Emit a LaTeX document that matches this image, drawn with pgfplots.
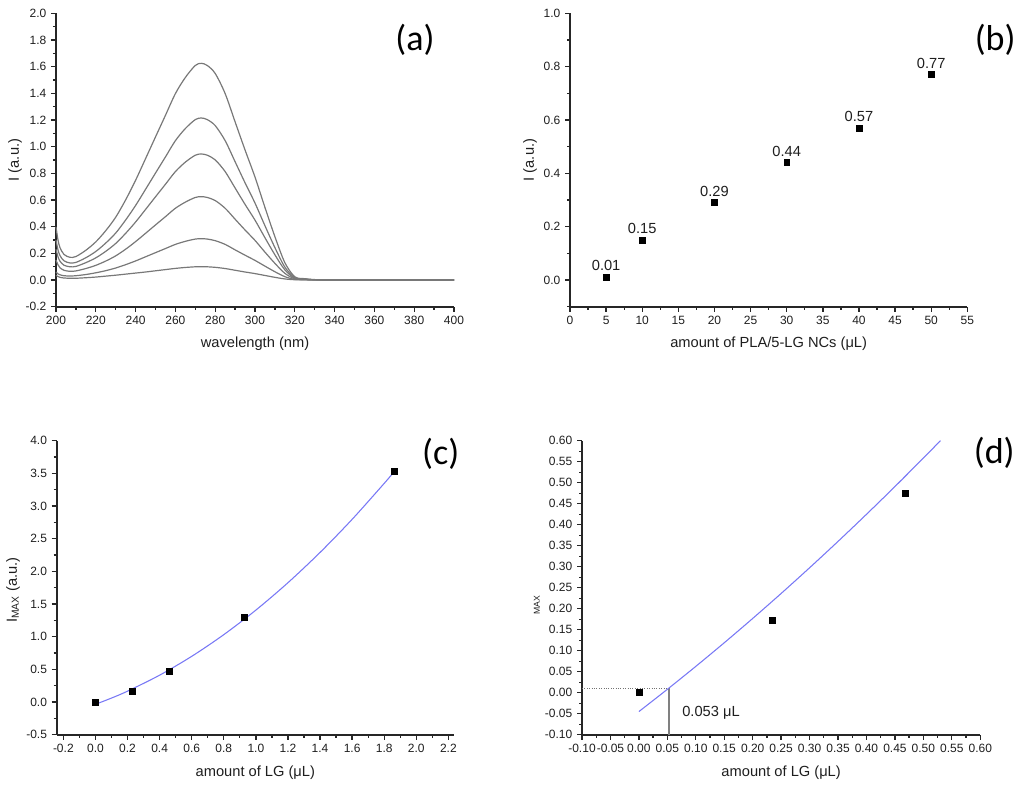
\documentclass[border=0pt]{standalone}
\usepackage{pgfplots}
\pgfplotsset{compat=1.18}
\usepackage{pgfplotstable}
\usepackage{fontspec}
\setmainfont{Liberation Sans}
\newfontfamily\calib{Carlito}
\definecolor{txt}{RGB}{30,30,30}
\definecolor{crv}{RGB}{120,120,120}
\definecolor{fitb}{RGB}{120,120,245}

\pgfplotstableread{
l c1 c2 c3 c4 c5 c6
200 0.398 0.300 0.230 0.150 0.060 0.035
201 0.300 0.226 0.174 0.114 0.046 0.026
202 0.243 0.183 0.141 0.092 0.039 0.020
204 0.192 0.144 0.111 0.073 0.032 0.015
207 0.170 0.128 0.099 0.065 0.030 0.013
210 0.176 0.132 0.102 0.068 0.032 0.013
215 0.223 0.167 0.130 0.086 0.041 0.017
220 0.286 0.214 0.166 0.110 0.054 0.022
225 0.370 0.277 0.215 0.142 0.070 0.029
230 0.471 0.352 0.274 0.181 0.090 0.036
235 0.601 0.450 0.350 0.231 0.115 0.044
240 0.748 0.559 0.435 0.288 0.143 0.052
245 0.910 0.680 0.529 0.350 0.174 0.060
250 1.073 0.802 0.624 0.413 0.205 0.069
255 1.235 0.923 0.718 0.475 0.236 0.078
260 1.398 1.045 0.813 0.538 0.267 0.087
265 1.519 1.136 0.884 0.584 0.290 0.094
270 1.609 1.203 0.936 0.619 0.307 0.099
273 1.625 1.215 0.945 0.625 0.310 0.100
276 1.609 1.203 0.936 0.619 0.307 0.099
280 1.549 1.158 0.901 0.596 0.295 0.095
285 1.398 1.045 0.813 0.538 0.267 0.086
290 1.186 0.887 0.690 0.456 0.226 0.073
295 0.975 0.729 0.567 0.375 0.186 0.060
300 0.772 0.577 0.449 0.297 0.147 0.048
305 0.544 0.407 0.317 0.209 0.104 0.034
310 0.325 0.243 0.189 0.125 0.062 0.020
315 0.130 0.097 0.076 0.050 0.025 0.008
320 0.024 0.018 0.014 0.009 0.005 0.002
325 0.010 0.007 0.006 0.004 0.002 0.001
330 0.003 0.002 0.002 0.001 0.001 0.000
340 0.000 0.000 0.000 0.000 0.000 0.000
400 0.000 0.000 0.000 0.000 0.000 0.000
}\spectra

\pgfplotstableread{
x y
5 0.01
10 0.15
20 0.29
30 0.44
40 0.57
50 0.77
}\tabb

\pgfplotstableread{
x y
0 0
0.23 0.168
0.46 0.474
0.93 1.291
1.86 3.531
}\tabc

\pgfplotstableread{
x y
0 -0.035
0.1 0.060
0.2 0.166
0.4 0.4105
0.6 0.6988
0.8 1.0308
1.0 1.4065
1.2 1.8259
1.4 2.289
1.6 2.7958
1.8 3.3464
1.86 3.5201
}\fitc

\pgfplotstableread{
x y
0 0
0.234 0.173
0.468 0.475
}\tabd

\pgfplotstableread{
x y
0 -0.045
0.05 0.0080
0.1 0.0626
0.15 0.1188
0.2 0.1767
0.25 0.2362
0.3 0.2974
0.35 0.3602
0.4 0.4247
0.45 0.4908
0.5 0.5587
0.53 0.6000
}\fitd

\pgfplotsset{
  panel/.style={
    scale only axis, clip=false,
    axis x line*=bottom, axis y line*=left,
    axis line style={-, line width=1.3pt, black!85},
    tick align=outside,
    major tick length=3.75pt, minor tick length=2.25pt,
    tick style={line width=1pt, black!85},
    tick label style={font=\fontsize{9}{10}\selectfont, text=txt},
    label style={font=\fontsize{11}{12}\selectfont, text=txt},
    /pgf/number format/assume math mode=true,
  },
  sq/.style={only marks, mark=square*, mark size=2.2pt, black},
}
\tikzset{plab/.style={font=\calib\fontsize{27}{30}\selectfont, text=black}}

\begin{document}
\begin{tikzpicture}
\useasboundingbox (0,0) rectangle (768pt,589.5pt);

% (a)
\begin{axis}[panel, at={(42pt,359.5pt)}, anchor=south west,
  width=298.5pt, height=220pt,
  xmin=200, xmax=400, ymin=-0.2, ymax=2.0,
  xtick={200,220,...,400}, minor xtick={210,230,...,390},
  ytick={-0.2,0,0.2,0.4,0.6,0.8,1.0,1.2,1.4,1.6,1.8,2.0},
  minor ytick={-0.1,0.1,0.3,0.5,0.7,0.9,1.1,1.3,1.5,1.7,1.9},
  yticklabel style={/pgf/number format/.cd, fixed, fixed zerofill, precision=1},
  xlabel={wavelength (nm)}, ylabel={I (a.u.)},
  xlabel style={at={(axis description cs:0.5,-0.1247)}, anchor=center},
  ylabel style={at={(axis description cs:-0.103,0.5)}, anchor=center},
]
\addplot[crv, line width=0.9pt, smooth, tension=0.5] table[x=l, y=c1] {\spectra};
\addplot[crv, line width=0.9pt, smooth, tension=0.5] table[x=l, y=c2] {\spectra};
\addplot[crv, line width=0.9pt, smooth, tension=0.5] table[x=l, y=c3] {\spectra};
\addplot[crv, line width=0.9pt, smooth, tension=0.5] table[x=l, y=c4] {\spectra};
\addplot[crv, line width=0.9pt, smooth, tension=0.5] table[x=l, y=c5] {\spectra};
\addplot[crv, line width=0.9pt, smooth, tension=0.5] table[x=l, y=c6] {\spectra};
\node[plab] at (axis description cs:0.902,0.909) {(a)};
\end{axis}

% (b)
\begin{axis}[panel, at={(427.5pt,359.5pt)}, anchor=south west,
  width=298pt, height=220pt,
  xmin=0, xmax=55, ymin=-0.1, ymax=1.0,
  xtick={0,5,...,55}, minor xtick={2.5,7.5,...,52.5},
  ytick={0,0.2,0.4,0.6,0.8,1.0}, minor ytick={-0.1,0.1,0.3,0.5,0.7,0.9},
  yticklabel style={/pgf/number format/.cd, fixed, fixed zerofill, precision=1},
  xlabel={amount of PLA/5-LG NCs (μL)}, ylabel={I (a.u.)},
  xlabel style={at={(axis description cs:0.5,-0.1247)}, anchor=center},
  ylabel style={at={(axis description cs:-0.1007,0.5)}, anchor=center},
]
\addplot[sq, point meta=explicit, nodes near coords,
  nodes near coords style={font=\fontsize{11}{12}\selectfont, text=txt, inner sep=0pt, anchor=south, yshift=4.5pt,
    /pgf/number format/.cd, fixed, fixed zerofill, precision=2, assume math mode=true}]
  table[x=x, y=y, meta=y] {\tabb};
\node[plab] at (axis description cs:1.07,0.909) {(b)};
\end{axis}

% (c)
\begin{axis}[panel, at={(42.5pt,38.5pt)}, anchor=south west,
  width=298pt, height=220.5pt,
  xmin=-0.2416, xmax=2.235, ymin=-0.5, ymax=4.0,
  xtick={-0.2,0,0.2,0.4,0.6,0.8,1.0,1.2,1.4,1.6,1.8,2.0,2.2},
  minor xtick={-0.1,0.1,0.3,0.5,0.7,0.9,1.1,1.3,1.5,1.7,1.9,2.1},
  ytick={-0.5,0,0.5,1.0,1.5,2.0,2.5,3.0,3.5,4.0},
  minor ytick={-0.25,0.25,0.75,1.25,1.75,2.25,2.75,3.25,3.75},
  xticklabel style={/pgf/number format/.cd, fixed, fixed zerofill, precision=1},
  yticklabel style={/pgf/number format/.cd, fixed, fixed zerofill, precision=1},
  xlabel={amount of LG (μL)}, ylabel={I\textsubscript{MAX} (a.u.)},
  xlabel style={at={(axis description cs:0.5,-0.130)}, anchor=center},
  ylabel style={at={(axis description cs:-0.11,0.492)}, anchor=center},
]
\addplot[fitb, line width=0.8pt, smooth] table[x=x, y=y] {\fitc};
\addplot[sq] table[x=x, y=y] {\tabc};
\node[plab] at (axis description cs:0.9665,0.955) {(c)};
\end{axis}

% (d)
\begin{axis}[panel, at={(436.5pt,38.5pt)}, anchor=south west,
  width=298.7pt, height=220.5pt,
  xmin=-0.1, xmax=0.6, ymin=-0.1, ymax=0.6,
  xtick={-0.1,-0.05,0,0.05,0.1,0.15,0.2,0.25,0.3,0.35,0.4,0.45,0.5,0.55,0.6},
  minor xtick={-0.075,-0.025,0.025,0.075,0.125,0.175,0.225,0.275,0.325,0.375,0.425,0.475,0.525,0.575},
  ytick={-0.1,-0.05,0,0.05,0.1,0.15,0.2,0.25,0.3,0.35,0.4,0.45,0.5,0.55,0.6},
  minor ytick={-0.075,-0.025,0.025,0.075,0.125,0.175,0.225,0.275,0.325,0.375,0.425,0.475,0.525,0.575},
  xticklabel style={/pgf/number format/.cd, fixed, fixed zerofill, precision=2},
  yticklabel style={/pgf/number format/.cd, fixed, fixed zerofill, precision=2},
  xlabel={amount of LG (μL)}, ylabel={MAX},
  xlabel style={at={(axis description cs:0.5,-0.130)}, anchor=center},
  ylabel style={at={(axis description cs:-0.113,0.441)}, anchor=center, font=\fontsize{6.5}{7}\selectfont},
]
\draw[black!55, densely dotted, line width=0.8pt] (axis cs:-0.1,0.01) -- (axis cs:0.053,0.01);
\draw[black!50, line width=0.9pt] (axis cs:0.053,-0.1) -- (axis cs:0.053,0.01);
\addplot[fitb, line width=0.8pt, smooth] table[x=x, y=y] {\fitd};
\addplot[sq] table[x=x, y=y] {\tabd};
\node[anchor=west, font=\fontsize{11}{12}\selectfont, text=txt] at (axis cs:0.068,-0.048) {0.053 μL};
\node[plab] at (axis description cs:1.035,0.958) {(d)};
\end{axis}
\end{tikzpicture}
\end{document}
